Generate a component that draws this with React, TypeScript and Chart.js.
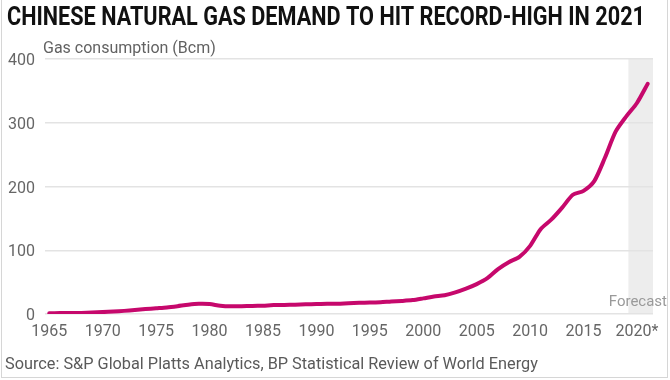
import { useEffect, useRef } from 'react';
import { Chart, registerables } from 'chart.js';

Chart.register(...registerables);

const years = [
  1965, 1966, 1967, 1968, 1969, 1970, 1971, 1972, 1973, 1974,
  1975, 1976, 1977, 1978, 1979, 1980, 1981, 1982, 1983, 1984,
  1985, 1986, 1987, 1988, 1989, 1990, 1991, 1992, 1993, 1994,
  1995, 1996, 1997, 1998, 1999, 2000, 2001, 2002, 2003, 2004,
  2005, 2006, 2007, 2008, 2009, 2010, 2011, 2012, 2013, 2014,
  2015, 2016, 2017, 2018, 2019, 2020, 2021,
];
const consumption = [
  1.2, 1.5, 1.6, 1.7, 2.2, 3.0, 3.9, 4.9, 6.1, 7.7,
  9.0, 10.3, 12.3, 14.6, 16.0, 15.6, 13.0, 12.0, 12.3, 12.6,
  13.1, 14.0, 14.2, 14.6, 15.3, 15.6, 16.2, 16.1, 17.0, 17.5,
  17.9, 18.3, 19.6, 20.5, 21.8, 24.5, 27.4, 29.5, 33.9, 39.7,
  46.8, 56.1, 70.5, 81.3, 89.5, 106.9, 133.4, 148.3, 166.9, 187.0,
  193.2, 208.4, 245.0, 286.0, 310.0, 331.0, 361.0,
];
const xTickYears = [1965, 1970, 1975, 1980, 1985, 1990, 1995, 2000, 2005, 2010, 2015, 2020];
const xTickLabels = ['1965', '1970', '1975', '1980', '1985', '1990', '1995', '2000', '2005', '2010', '2015', '2020*'];
const forecastStart = 2019.2;

const titleText = 'CHINESE NATURAL GAS DEMAND TO HIT RECORD-HIGH IN 2021';
const yAxisText = 'Gas consumption (Bcm)';
const sourceText = 'Source: S&P Global Platts Analytics, BP Statistical Review of World Energy';
const forecastText = 'Forecast';

const textPlugin = {
  id: 'customText',
  beforeDraw(chart: any) {
    const { ctx, chartArea, scales } = chart;
    const x0 = scales.x.getPixelForValue(forecastStart);
    ctx.save();
    ctx.fillStyle = '#ededed';
    ctx.fillRect(x0, chartArea.top, chartArea.right - x0, chartArea.bottom - chartArea.top);
    ctx.restore();
  },
  afterDraw(chart: any) {
    const { ctx, chartArea } = chart;
    ctx.save();
    ctx.font = 'bold 25px Roboto, "DejaVu Sans", sans-serif';
    ctx.fillStyle = '#111111';
    ctx.textBaseline = 'alphabetic';
    ctx.textAlign = 'left';
    const w = ctx.measureText(titleText).width;
    const target = 638;
    ctx.save();
    ctx.translate(7, 25);
    ctx.scale(target / w, 1);
    ctx.fillText(titleText, 0, 0);
    ctx.restore();

    ctx.font = '16px Roboto, sans-serif';
    ctx.fillStyle = '#626262';
    ctx.fillText(yAxisText, 43, 53);

    ctx.font = '16.3px Roboto, sans-serif';
    ctx.fillStyle = '#5a5a5a';
    ctx.fillText(sourceText, 5, 369);

    ctx.font = '15px Roboto, sans-serif';
    ctx.fillStyle = '#9a9a9a';
    ctx.textAlign = 'right';
    ctx.fillText(forecastText, 667, chartArea.bottom - 8);
    ctx.restore();
  },
};

export default function App() {
  const canvasRef = useRef<HTMLCanvasElement | null>(null);

  useEffect(() => {
    const canvas = canvasRef.current;
    if (!canvas) return;
    const points = years.map((yr, i) => ({ x: yr, y: consumption[i] }));
    const chart = new Chart(canvas, {
      type: 'line',
      data: {
        datasets: [
          {
            label: 'Gas consumption (Bcm)',
            data: points,
            borderColor: '#c6086c',
            borderWidth: 4,
            pointRadius: 0,
            tension: 0.25,
            fill: false,
            borderCapStyle: 'round',
            borderJoinStyle: 'round',
          },
        ],
      },
      options: {
        responsive: false,
        animation: false,
        layout: { padding: { top: 59, left: 0, right: 17, bottom: 36 } },
        plugins: {
          legend: { display: false },
          tooltip: { enabled: false },
          title: { display: false },
        },
        scales: {
          x: {
            type: 'linear',
            min: 1964.6,
            max: 2021.5,
            grid: { display: false, drawTicks: false },
            border: { display: false },
            afterBuildTicks: (scale: any) => {
              scale.ticks = xTickYears.map((v) => ({ value: v }));
            },
            afterFit: (scale: any) => {
              scale.height = 30;
            },
            ticks: {
              autoSkip: false,
              maxRotation: 0,
              padding: 8,
              color: '#666666',
              font: { size: 16, family: 'Roboto, sans-serif' },
              callback: (v: any) => {
                const idx = xTickYears.indexOf(Number(v));
                return idx >= 0 ? xTickLabels[idx] : '';
              },
            },
          },
          y: {
            min: 0,
            max: 400,
            afterFit: (scale: any) => {
              scale.width = 45;
            },
            grid: { color: '#e3e3e3', lineWidth: 1.5, drawTicks: false },
            border: { display: false },
            ticks: {
              stepSize: 100,
              padding: 10,
              labelOffset: 2,
              color: '#666666',
              font: { size: 16, family: 'Roboto, sans-serif' },
            },
          },
        },
      },
      plugins: [textPlugin],
    });
    return () => chart.destroy();
  }, []);

  return (
    <div style={{ position: 'fixed', left: 0, top: 0, width: 670, height: 380, background: '#fff' }}>
      <div
        style={{
          position: 'absolute',
          left: 1,
          top: 0,
          width: 667,
          height: 378,
          boxSizing: 'border-box',
          borderLeft: '1px solid #d6d6d6',
          borderRight: '1px solid #d6d6d6',
          borderBottom: '1px solid #d6d6d6',
          pointerEvents: 'none',
        }}
      />
      <canvas ref={canvasRef} width={670} height={380} style={{ display: 'block', position: 'absolute', left: 0, top: 0 }} />
    </div>
  );
}
